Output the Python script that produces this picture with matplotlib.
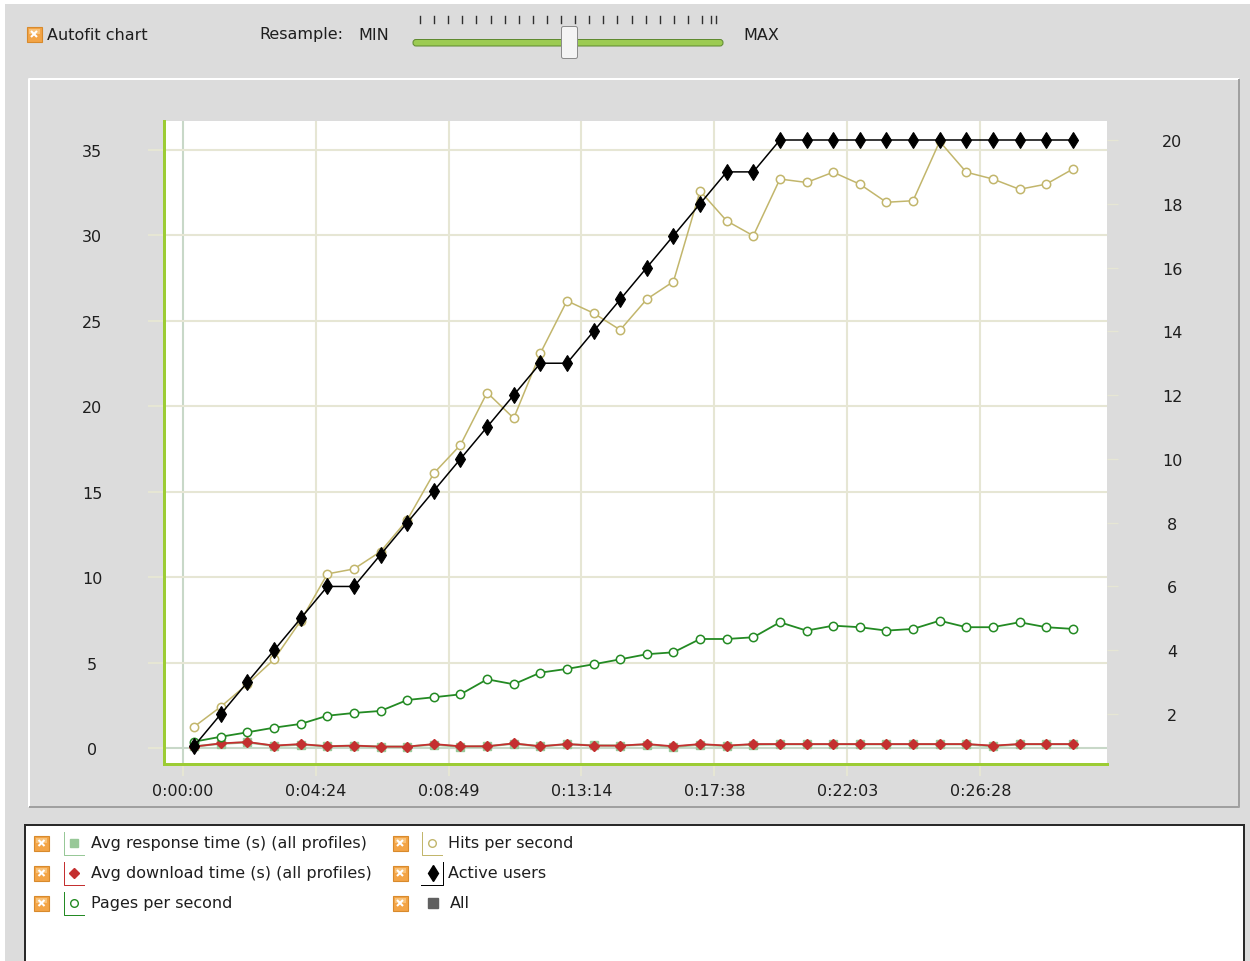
import matplotlib
matplotlib.use('Agg')
import matplotlib.pyplot as plt
from matplotlib.patches import Rectangle, FancyBboxPatch

# ---------------- data ----------------
elapsed_s = [23, 76, 129, 182, 235, 288, 341, 394, 447, 500, 553, 606, 659, 712,
             765, 818, 871, 924, 977, 1030, 1083, 1136, 1189, 1242, 1295, 1348,
             1401, 1454, 1507, 1560, 1613, 1666, 1719, 1772]
hits_per_second = [1.25, 2.42, 3.75, 5.19, 7.45, 10.19, 10.48, 11.5, 13.35, 16.08,
                   17.74, 20.8, 19.3, 23.1, 26.17, 25.45, 24.47, 26.27, 27.3, 32.6,
                   30.85, 29.98, 33.3, 33.1, 33.7, 33.0, 31.94, 32.03, 35.5, 33.7,
                   33.3, 32.7, 33.0, 33.88]
pages_per_second = [0.37, 0.66, 0.92, 1.19, 1.41, 1.89, 2.05, 2.17, 2.81, 2.97,
                    3.14, 4.02, 3.73, 4.41, 4.63, 4.9, 5.19, 5.49, 5.6, 6.38,
                    6.38, 6.48, 7.36, 6.87, 7.16, 7.07, 6.87, 6.97, 7.45, 7.07,
                    7.07, 7.36, 7.07, 6.97]
active_users = [1, 2, 3, 4, 5, 6, 6, 7, 8, 9, 10, 11, 12, 13, 13, 14, 15, 16, 17,
                18, 19, 19, 20, 20, 20, 20, 20, 20, 20, 20, 20, 20, 20, 20]
avg_download = [0.08, 0.27, 0.35, 0.14, 0.23, 0.10, 0.14, 0.08, 0.08, 0.23, 0.10,
                0.10, 0.27, 0.10, 0.23, 0.14, 0.14, 0.23, 0.10, 0.23, 0.14, 0.23,
                0.23, 0.23, 0.23, 0.23, 0.23, 0.23, 0.23, 0.23, 0.14, 0.23, 0.23, 0.23]
avg_response = [0.10, 0.25, 0.33, 0.12, 0.20, 0.10, 0.13, 0.08, 0.08, 0.20, 0.08,
                0.10, 0.25, 0.10, 0.22, 0.15, 0.14, 0.20, 0.06, 0.20, 0.12, 0.20,
                0.22, 0.22, 0.22, 0.22, 0.22, 0.22, 0.22, 0.22, 0.10, 0.22, 0.22, 0.22]

time_ticks_s = [0, 264.6, 529.3, 793.9, 1058.6, 1323.2, 1587.8]
time_labels = ["0:00:00", "0:04:24", "0:08:49", "0:13:14", "0:17:38", "0:22:03", "0:26:28"]
left_ticks = [0, 5, 10, 15, 20, 25, 30, 35]
right_ticks = [2, 4, 6, 8, 10, 12, 14, 16, 18, 20]

legend_left = ["Avg response time (s) (all profiles)",
               "Avg download time (s) (all profiles)",
               "Pages per second"]
legend_right = ["Hits per second", "Active users", "All"]

# ---------------- style ----------------
W, H = 1250, 962
BG = '#DCDCDC'
GRID = '#E6E6D4'
GRID0 = '#C8D8C8'
SPINE = '#9CCC34'
TXT = '#1E1E1E'
C_RESP = '#98C898'
C_DOWN = '#C43030'
C_PAGES = '#238A23'
C_HITS = '#C2B66C'
C_USERS = '#000000'
FS = 11.5
PT = 0.72  # points per pixel at 100 dpi

plt.rcParams['font.family'] = ['DejaVu Sans']
plt.rcParams['font.size'] = FS

fig = plt.figure(figsize=(W / 100, H / 100), dpi=100, facecolor=BG)

# background / UI layer in pixel coordinates
bg = fig.add_axes([0, 0, 1, 1], zorder=0)
bg.set_xlim(0, W)
bg.set_ylim(H, 0)
bg.axis('off')
bg.add_patch(Rectangle((0, 0), W, 5, facecolor='white', edgecolor='none'))
bg.add_patch(Rectangle((0, 0), 5, H, facecolor='white', edgecolor='none'))

# chart panel (raised border)
bg.plot([29, 29, 1239], [808, 80, 80], color='white', lw=2 * PT, solid_capstyle='butt')
bg.plot([1239, 1239, 29], [80, 808, 808], color='#A0A0A0', lw=2 * PT, solid_capstyle='butt')

# legend box
bg.add_patch(Rectangle((25, 826), 1219, 150, facecolor='white', edgecolor='#2A2A2A', lw=2 * PT))


def checkbox(cx, cy):
    bg.add_patch(Rectangle((cx - 7.5, cy - 7.5), 15, 15, facecolor='#F3A446',
                           edgecolor='#D88A2C', lw=0.8))
    bg.add_patch(Rectangle((cx - 5.5, cy - 5.5), 11, 5, facecolor='#F8C27A',
                           edgecolor='none'))
    bg.plot([cx - 3, cx + 3], [cy - 3, cy + 3], color='white', lw=1.5, solid_capstyle='butt')
    bg.plot([cx - 3, cx + 3], [cy + 3, cy - 3], color='white', lw=1.5, solid_capstyle='butt')


# toolbar
checkbox(34, 35)
bg.text(47, 35, "Autofit chart", ha='left', va='center', color=TXT, fontsize=FS)
bg.text(259, 35, "Resample:", ha='left', va='center', color=TXT, fontsize=FS)
bg.text(358, 35, "MIN", ha='left', va='center', color=TXT, fontsize=FS)
bg.text(743, 35, "MAX", ha='left', va='center', color=TXT, fontsize=FS)
for i in range(21):
    xt = 420 + 14.1 * i
    bg.plot([xt, xt], [17, 24], color='#303030', lw=1.4 * PT)
for xt in (711, 716):
    bg.plot([xt, xt], [17, 24], color='#303030', lw=1.4 * PT)
bg.add_patch(FancyBboxPatch((413, 40.5), 310, 6.5, boxstyle='round,pad=0,rounding_size=3',
                            facecolor='#9CCB52', edgecolor='#5F8A30', lw=1 * PT))
bg.add_patch(FancyBboxPatch((561.5, 27.5), 16, 32, boxstyle='round,pad=0,rounding_size=2',
                            facecolor='#F4F4F4', edgecolor='#8C8C8C', lw=1 * PT))

# legend entries
rows = [844, 874, 904]
col1_styles = [(C_RESP, 's', C_RESP, 6), (C_DOWN, 'D', C_DOWN, 5), (C_PAGES, 'o', 'white', 5.5)]
for label, y, (c, m, mfc, ms) in zip(legend_left, rows, col1_styles):
    checkbox(41.5, y)
    bg.plot([64, 64, 84], [y - 11, y + 12, y + 12], color=c, lw=1 * PT)
    bg.plot([74], [y], marker=m, color=c, mfc=mfc, ms=ms, mew=1.0)
    bg.text(91, y, label, ha='left', va='center', color=TXT, fontsize=FS)

checkbox(400, rows[0])
bg.plot([422, 422, 442], [rows[0] - 11, rows[0] + 12, rows[0] + 12], color=C_HITS, lw=1 * PT)
bg.plot([432], [rows[0]], marker='o', color=C_HITS, mfc='white', ms=5.5, mew=1.0)
bg.text(448, rows[0], legend_right[0], ha='left', va='center', color=TXT, fontsize=FS)

checkbox(400, rows[1])
bg.plot([421, 443, 443], [rows[1] + 12, rows[1] + 12, rows[1] - 11], color=C_USERS, lw=1 * PT)
bg.plot([433], [rows[1]], marker='d', color=C_USERS, ms=8)
bg.text(448, rows[1], legend_right[1], ha='left', va='center', color=TXT, fontsize=FS)

checkbox(400, rows[2])
bg.plot([433], [rows[2]], marker='s', color='#606060', ms=6.5)
bg.text(450, rows[2], legend_right[2], ha='left', va='center', color=TXT, fontsize=FS)

# ---------------- main chart ----------------
L, R, T, B = 164, 1107, 122, 764.5
ax = fig.add_axes([L / W, 1 - B / H, (R - L) / W, (B - T) / H], zorder=1)
ax.set_facecolor('white')

px_per_s = 0.5023
x0_px = 182.7
ax.set_xlim((L - x0_px) / px_per_s, (R - x0_px) / px_per_s)
ppu_left = 17.086
zero_left = 749.0
ax.set_ylim(-(B - zero_left) / ppu_left, (zero_left - T) / ppu_left)

ax.plot(elapsed_s, avg_response, color=C_RESP, lw=1.6, marker='s', ms=6,
        mfc=C_RESP, mec=C_RESP, zorder=3)
ax.plot(elapsed_s, avg_download, color=C_DOWN, lw=1.3, marker='D', ms=4.8,
        mfc=C_DOWN, mec=C_DOWN, zorder=4)
ax.plot(elapsed_s, pages_per_second, color=C_PAGES, lw=1.3, marker='o', ms=6,
        mfc='white', mec=C_PAGES, mew=1.1, zorder=5)
ax.plot(elapsed_s, hits_per_second, color=C_HITS, lw=1.1, marker='o', ms=6,
        mfc='white', mec=C_HITS, mew=1.1, zorder=6)

ax.set_xticks(time_ticks_s)
ax.set_xticklabels(time_labels)
ax.set_yticks(left_ticks)
ax.set_yticklabels([str(v) for v in left_ticks])
ax.grid(True, color=GRID, lw=1.5)
ax.set_axisbelow(True)
ax.xaxis.get_gridlines()[0].set_color(GRID0)
ax.yaxis.get_gridlines()[0].set_color(GRID0)

ax.tick_params(axis='y', direction='out', length=16 * PT, width=1.5, color=GRID,
               pad=56 * PT, labelcolor=TXT, labelsize=FS)
ax.tick_params(axis='x', direction='out', length=12 * PT, width=1.5, color=GRID,
               pad=8 * PT, labelcolor=TXT, labelsize=FS)
for lab in ax.get_yticklabels():
    lab.set_horizontalalignment('center')
ax.xaxis.get_ticklines()[0].set_color(GRID0)

for s in ('top', 'right'):
    ax.spines[s].set_visible(False)
for s in ('left', 'bottom'):
    ax.spines[s].set_color(SPINE)
    ax.spines[s].set_linewidth(3 * PT)
    ax.spines[s].set_zorder(10)

# right axis: active users
ax2 = ax.twinx()
ppu_right = 31.89
zero_right = 778.8
ax2.set_ylim((zero_right - B) / ppu_right, (zero_right - T) / ppu_right)
ax2.plot(elapsed_s, active_users, color=C_USERS, lw=1.1, marker='d', ms=8,
         mfc=C_USERS, mec=C_USERS, mew=0.8, zorder=7)
ax2.set_yticks(right_ticks)
ax2.set_yticklabels([str(v) for v in right_ticks])
ax2.tick_params(axis='y', direction='out', length=11 * PT, width=1.0, color=GRID,
                pad=54 * PT, labelcolor=TXT, labelsize=FS)
for lab in ax2.get_yticklabels():
    lab.set_horizontalalignment('center')
for s in ax2.spines.values():
    s.set_visible(False)

fig.savefig('out.png', dpi=100, facecolor=BG)
